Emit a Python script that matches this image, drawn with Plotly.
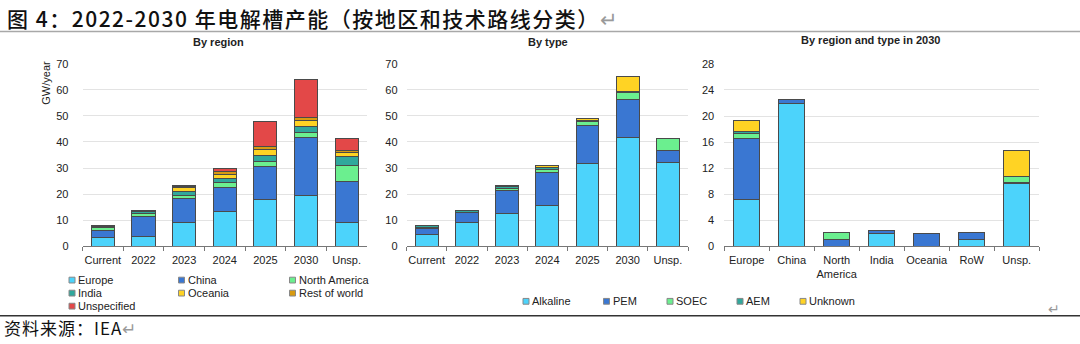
import plotly.graph_objects as go

W, H = 1080, 344

# ---------------- data ----------------
periods = ["Current", "2022", "2023", "2024", "2025", "2030", "Unsp."]

# By region (GW/year)
europe = [3.5, 3.9, 9.2, 13.4, 17.9, 19.3, 9.1]
china = [2.7, 7.6, 9.0, 9.1, 12.7, 22.3, 15.7]
north_america = [0.9, 1.2, 1.4, 1.8, 1.8, 2.0, 6.2]
india = [0.6, 0.6, 1.4, 1.7, 2.5, 2.5, 3.4]
oceania = [0.0, 0.0, 1.6, 1.7, 2.4, 2.3, 1.5]
rest_of_world = [0.2, 0.3, 0.4, 1.0, 1.0, 1.1, 0.8]
unspecified = [0.2, 0.2, 0.3, 1.1, 9.6, 14.6, 4.8]

# By type (GW/year)
alkaline = [4.6, 9.3, 12.4, 15.6, 31.6, 41.6, 32.2]
pem = [2.3, 3.7, 9.0, 12.6, 14.7, 14.8, 4.7]
soec = [0.2, 0.1, 0.8, 1.4, 1.5, 2.4, 4.4]
aem = [0.9, 0.7, 0.6, 0.5, 0.4, 0.4, 0.0]
unknown = [0.0, 0.0, 0.6, 0.7, 0.8, 5.9, 0.0]

# By region and type in 2030
regions_2030 = ["Europe", "China", "North<br>America", "India", "Oceania", "RoW", "Unsp."]
alkaline_2030 = [7.2, 21.9, 0.0, 2.0, 0.0, 1.1, 9.6]
pem_2030 = [9.3, 0.7, 1.0, 0.5, 2.0, 1.0, 0.15]
soec_2030 = [0.8, 0.0, 1.1, 0.0, 0.0, 0.0, 0.9]
aem_2030 = [0.3, 0.0, 0.0, 0.0, 0.0, 0.0, 0.0]
unknown_2030 = [1.7, 0.0, 0.0, 0.0, 0.0, 0.0, 4.1]

region_names = ["Europe", "China", "North America", "India", "Oceania", "Rest of world", "Unspecified"]
type_names = ["Alkaline", "PEM", "SOEC", "AEM", "Unknown"]

# ---------------- styles ----------------
C_CYAN = "#4CD3FB"
C_BLUE = "#3A77D2"
C_GREEN = "#6BEF8F"
C_TEAL = "#30A89C"
C_YELLOW = "#FFD324"
C_ORANGE = "#D89A10"
C_RED = "#E34848"
region_colors = [C_CYAN, C_BLUE, C_GREEN, C_TEAL, C_YELLOW, C_ORANGE, C_RED]
type_colors = [C_CYAN, C_BLUE, C_GREEN, C_TEAL, C_YELLOW]

FONT = "Liberation Sans, Arial, sans-serif"
CJK = "Noto Sans CJK SC, sans-serif"
EDGE = "#4a4a4a"


def px(x):
    return x / W


def py(y):
    return 1 - y / H


def nz(vals):
    return [v if v else None for v in vals]


fig = go.Figure()

region_series = [europe, china, north_america, india, oceania, rest_of_world, unspecified]
for name, vals, col in zip(region_names, region_series, region_colors):
    fig.add_trace(go.Bar(x=periods, y=nz(vals), name=name, marker=dict(color=col, line=dict(color=EDGE, width=1)),
                         xaxis="x", yaxis="y", showlegend=False))

type_series = [alkaline, pem, soec, aem, unknown]
for name, vals, col in zip(type_names, type_series, type_colors):
    fig.add_trace(go.Bar(x=periods, y=nz(vals), name=name, marker=dict(color=col, line=dict(color=EDGE, width=1)),
                         xaxis="x2", yaxis="y2", showlegend=False))

type_series_2030 = [alkaline_2030, pem_2030, soec_2030, aem_2030, unknown_2030]
for name, vals, col in zip(type_names, type_series_2030, type_colors):
    fig.add_trace(go.Bar(x=regions_2030, y=nz(vals), name=name, marker=dict(color=col, line=dict(color=EDGE, width=1)),
                         xaxis="x3", yaxis="y3", showlegend=False))

ydom = [py(249), py(59.3)]
tickfont = dict(family=FONT, size=11, color="#222")

xcommon = dict(type="category", tickson="boundaries", ticks="outside", ticklen=4, tickcolor="#777",
               showline=True, linecolor="#777", linewidth=1, tickfont=tickfont, showgrid=False,
               tickangle=0, ticklabelstandoff=3, fixedrange=True)
ycommon = dict(showgrid=True, gridcolor="#e3e3e3", gridwidth=1, zeroline=False, showline=False,
               ticks="", tickfont=tickfont, fixedrange=True)

fig.update_layout(
    width=W, height=H, autosize=False,
    margin=dict(l=0, r=0, t=0, b=0),
    paper_bgcolor="white", plot_bgcolor="white",
    barmode="stack", bargap=0.43,
    xaxis=dict(domain=[px(82.5), px(367)], anchor="y", **xcommon),
    yaxis=dict(domain=ydom, anchor="x", range=[0, 70.2], dtick=10, ticklabelstandoff=13, **ycommon),
    xaxis2=dict(domain=[px(406.6), px(688)], anchor="y2", **xcommon),
    yaxis2=dict(domain=ydom, anchor="x2", range=[0, 70.2], dtick=10, ticklabelstandoff=8, **ycommon),
    xaxis3=dict(domain=[px(724.2), px(1039.2)], anchor="y3", **xcommon),
    yaxis3=dict(domain=ydom, anchor="x3", range=[0, 28.1], dtick=4, ticklabelstandoff=9, **ycommon),
)

ann = []
shapes = []


def text(x, y, s, size=11, xanchor="left", color="#222", family=FONT, angle=0, weight="normal"):
    ann.append(dict(x=px(x), y=py(y), xref="paper", yref="paper", text=s, showarrow=False,
                    xanchor=xanchor, yanchor="middle", textangle=angle,
                    font=dict(family=family, size=size, color=color, weight=weight)))


# Title and source
text(5, 12.5, "<span style='letter-spacing:1.5px'>图 4：2022-2030 年电解槽产能（按地区和技术路线分类）</span>"
     "<span style='color:#9a9a9a'>↵</span>",
     size=21, family=CJK, color="#111", weight=500)
text(2, 333, "<span style='letter-spacing:1px'>资料来源：IEA</span><span style='color:#9a9a9a'>↵</span>",
     size=17, family=CJK, color="#111")
text(1046, 313, "↵", size=14, family=CJK, color="#9a9a9a")

shapes.append(dict(type="line", xref="paper", yref="paper", x0=0, x1=1, y0=py(26.5), y1=py(26.5),
                   line=dict(color="#a8a8a8", width=1.5)))
shapes.append(dict(type="line", xref="paper", yref="paper", x0=0, x1=1, y0=py(321), y1=py(321),
                   line=dict(color="#333", width=1.5)))

# Subplot titles
text(218.7, 37.7, "<b>By region</b>", xanchor="center")
text(548.3, 37, "<b>By type</b>", xanchor="center")
text(870, 35, "<b>By region and type in 2030</b>", xanchor="center")
text(46.5, 80, "GW/year", xanchor="center", angle=-90)


def legend_item(x, y, col, label):
    shapes.append(dict(type="rect", xref="paper", yref="paper", x0=px(x), x1=px(x + 6),
                       y0=py(y + 3), y1=py(y - 3), fillcolor=col, line=dict(color="#888", width=1)))
    text(x + 7, y, label)


# Region legend
left_cols = [69, 178.5, 289.5]
left_rows = [284, 297.5, 311]
for i, (name, col) in enumerate(zip(region_names, region_colors)):
    legend_item(left_cols[i % 3], left_rows[i // 3], col, name)

# Type legend
type_x = [523, 603.5, 667, 737, 800]
for xx, name, col in zip(type_x, type_names, type_colors):
    legend_item(xx, 306, col, name)

fig.update_layout(annotations=ann, shapes=shapes)
fig.write_html("out.html")
